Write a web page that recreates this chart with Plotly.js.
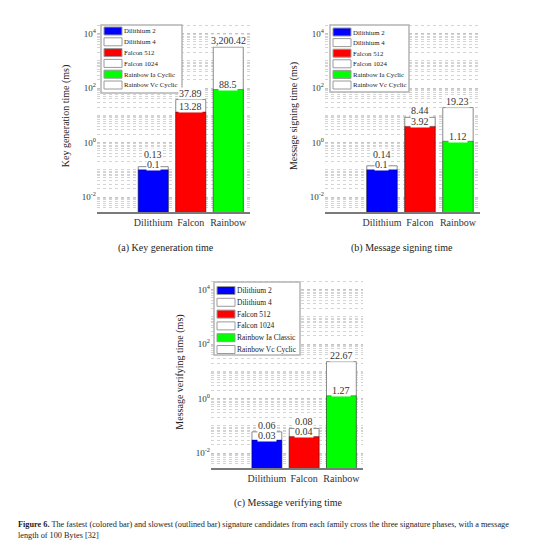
<!DOCTYPE html>
<html>
<head>
<meta charset="utf-8">
<script src="https://cdn.plot.ly/plotly-3.0.1.min.js"></script>
<style>html,body{margin:0;padding:0;background:#fff;}#chart{width:549px;height:549px;}</style>
</head>
<body>
<div id="chart"></div>
<script>
// ---- data ----
const families = ['Dilithium', 'Falcon', 'Rainbow'];
const fastNamesA = ['Dilithium 2', 'Falcon 512', 'Rainbow Ia Cyclic'];
const slowNamesA = ['Dilithium 4', 'Falcon 1024', 'Rainbow Vc Cyclic'];
const fastNamesC = ['Dilithium 2', 'Falcon 512', 'Rainbow Ia Classic'];
const slowNamesC = ['Dilithium 4', 'Falcon 1024', 'Rainbow Vc Cyclic'];
const keygenFast = [0.1, 13.28, 88.5];
const keygenSlow = [0.13, 37.89, 3200.42];
const signFast = [0.1, 3.92, 1.12];
const signSlow = [0.14, 8.44, 19.23];
const verifyFast = [0.03, 0.04, 1.27];
const verifySlow = [0.06, 0.08, 22.67];
const yTickVals = [0.01, 1, 100, 10000];
const yTickText = ['10<sup>-2</sup>', '10<sup>0</sup>', '10<sup>2</sup>', '10<sup>4</sup>'];
const yTitles = ['Key generation time (ms)', 'Message signing time (ms)', 'Message verifying time (ms)'];
const panelCaptions = ['(a) Key generation time', '(b) Message signing time', '(c) Message verifying time'];
const figCaption = '<b>Figure 6.</b> The fastest (colored bar) and slowest (outlined bar) signature candidates from each family cross the three signature phases, with a message<br>length of 100 Bytes [32]';
const familyColors = ['#0000ff', '#ff0000', '#00ff00'];

// ---- styling / layout constants ----
const SERIF = 'Liberation Serif, Times New Roman, serif';
const W = 549, H = 549;
const px = v => v / W, py = v => 1 - v / H;
const Y_RANGE = [-2.55, 4.5];
const fmt = v => v.toLocaleString('en-US', {maximumFractionDigits: 2});

const panels = [
  {fast: keygenFast, slow: keygenSlow, fastNames: fastNamesA, slowNames: slowNamesA,
   box: [97, 250, 20, 212], leg: {x: 101, y: 25, w: 81, h: 68, row: 10.8, first: 6, fs: 6.8},
   cap: [166, 248]},
  {fast: signFast, slow: signSlow, fastNames: fastNamesA, slowNames: slowNamesA,
   box: [325, 480, 20, 212], leg: {x: 330, y: 25, w: 79, h: 67, row: 10.6, first: 7, fs: 6.8},
   cap: [402, 248]},
  {fast: verifyFast, slow: verifySlow, fastNames: fastNamesC, slowNames: slowNamesC,
   box: [211, 363, 276, 468], leg: {x: 214, y: 282, w: 86, h: 73, row: 11.8, first: 8.5, fs: 7.5},
   cap: [288, 503]}
];

const traces = [];
const layout = {
  width: W, height: H,
  margin: {l: 0, r: 0, t: 0, b: 0},
  paper_bgcolor: '#fff', plot_bgcolor: '#fff',
  barmode: 'overlay', showlegend: false,
  font: {family: SERIF, color: '#333', size: 10},
  annotations: [], shapes: []
};

panels.forEach((p, k) => {
  const sfx = k === 0 ? '' : String(k + 1);
  const xa = 'x' + sfx, ya = 'y' + sfx;
  const [x0, x1, y0, y1] = p.box;
  const pxPerDecade = (y1 - y0) / (Y_RANGE[1] - Y_RANGE[0]);

  // outlined (slowest) bars first so they sit behind
  families.forEach((f, i) => {
    traces.push({
      type: 'bar', x: [f], y: [p.slow[i]], name: p.slowNames[i],
      xaxis: xa, yaxis: ya, width: 0.8,
      marker: {color: '#ffffff', line: {color: '#8a8a8a', width: 1}},
      hoverinfo: 'skip'
    });
  });
  families.forEach((f, i) => {
    traces.push({
      type: 'bar', x: [f], y: [p.fast[i]], name: p.fastNames[i],
      xaxis: xa, yaxis: ya, width: 0.8,
      marker: {color: familyColors[i], line: {color: 'rgba(0,0,0,0.35)', width: 1}},
      hoverinfo: 'skip'
    });
  });

  // value labels (white-backed, like the reference)
  families.forEach((f, i) => {
    const gap = (Math.log10(p.slow[i]) - Math.log10(p.fast[i])) * pxPerDecade;
    const lift = Math.max(0, 8.5 - gap);
    layout.annotations.push({
      xref: xa, yref: ya, x: f, y: Math.log10(p.slow[i]), yanchor: 'bottom', yshift: lift,
      showarrow: false, text: fmt(p.slow[i]), bgcolor: '#ffffff', borderpad: 0,
      font: {family: SERIF, size: 10, color: '#333'}
    });
  });
  families.forEach((f, i) => {
    layout.annotations.push({
      xref: xa, yref: ya, x: f, y: Math.log10(p.fast[i]), yanchor: 'bottom', yshift: -1.5,
      showarrow: false, text: fmt(p.fast[i]), bgcolor: '#ffffff', borderpad: 0,
      font: {family: SERIF, size: 10, color: '#333'}
    });
  });

  layout['xaxis' + sfx] = {
    domain: [px(x0), px(x1)], anchor: ya, type: 'category',
    categoryorder: 'array', categoryarray: families,
    range: [-1.5, 2.58], showgrid: false, zeroline: false,
    showline: true, linecolor: '#7a7a7a', linewidth: 2, ticks: '',
    tickfont: {family: SERIF, size: 10, color: '#333'}, fixedrange: true
  };
  layout['yaxis' + sfx] = {
    domain: [py(y1), py(y0)], anchor: xa, type: 'log', range: Y_RANGE,
    tickmode: 'array', tickvals: yTickVals, ticktext: yTickText,
    ticks: '', showline: false, zeroline: false,
    showgrid: true, gridcolor: '#c4c4c4', gridwidth: 1, griddash: 'dot',
    minor: {dtick: 'D1', showgrid: true, gridcolor: '#d4d4d4', griddash: 'dot', ticks: ''},
    tickfont: {family: SERIF, size: 9, color: '#333'},
    title: {text: yTitles[k], font: {family: SERIF, size: 10, color: '#222'}, standoff: 10},
    automargin: false, fixedrange: true
  };

  // compact in-plot legend (fast = coloured swatch, slow = outlined swatch)
  const L = p.leg;
  layout.shapes.push({
    type: 'rect', xref: 'paper', yref: 'paper', layer: 'above',
    x0: px(L.x), x1: px(L.x + L.w), y0: py(L.y + L.h), y1: py(L.y),
    fillcolor: '#ffffff', line: {color: '#b4b4b4', width: 1.5}
  });
  const entries = [];
  families.forEach((f, i) => {
    entries.push({name: p.fastNames[i], color: familyColors[i]});
    entries.push({name: p.slowNames[i], color: '#ffffff'});
  });
  entries.forEach((e, j) => {
    const cy = L.y + L.first + j * L.row;
    layout.shapes.push({
      type: 'rect', xref: 'paper', yref: 'paper', layer: 'above',
      x0: px(L.x + 3), x1: px(L.x + 21), y0: py(cy + 4), y1: py(cy - 4),
      fillcolor: e.color, line: {color: '#9a9a9a', width: 1}
    });
    layout.annotations.push({
      xref: 'paper', yref: 'paper', x: px(L.x + 22), y: py(cy), xanchor: 'left', yanchor: 'middle',
      showarrow: false, text: e.name, borderpad: 0,
      font: {family: SERIF, size: L.fs, color: '#1a1a1a'}
    });
  });

  layout.annotations.push({
    xref: 'paper', yref: 'paper', x: px(p.cap[0]), y: py(p.cap[1]),
    xanchor: 'center', yanchor: 'middle', showarrow: false,
    text: panelCaptions[k], font: {family: SERIF, size: 10, color: '#222'}
  });
});

layout.annotations.push({
  xref: 'paper', yref: 'paper', x: px(17), y: py(529.5), xanchor: 'left', yanchor: 'middle',
  align: 'left', showarrow: false, text: figCaption, borderpad: 0,
  font: {family: SERIF, size: 8.25, color: '#222'}
});

Plotly.newPlot('chart', traces, layout, {displayModeBar: false, staticPlot: true});
</script>
</body>
</html>
